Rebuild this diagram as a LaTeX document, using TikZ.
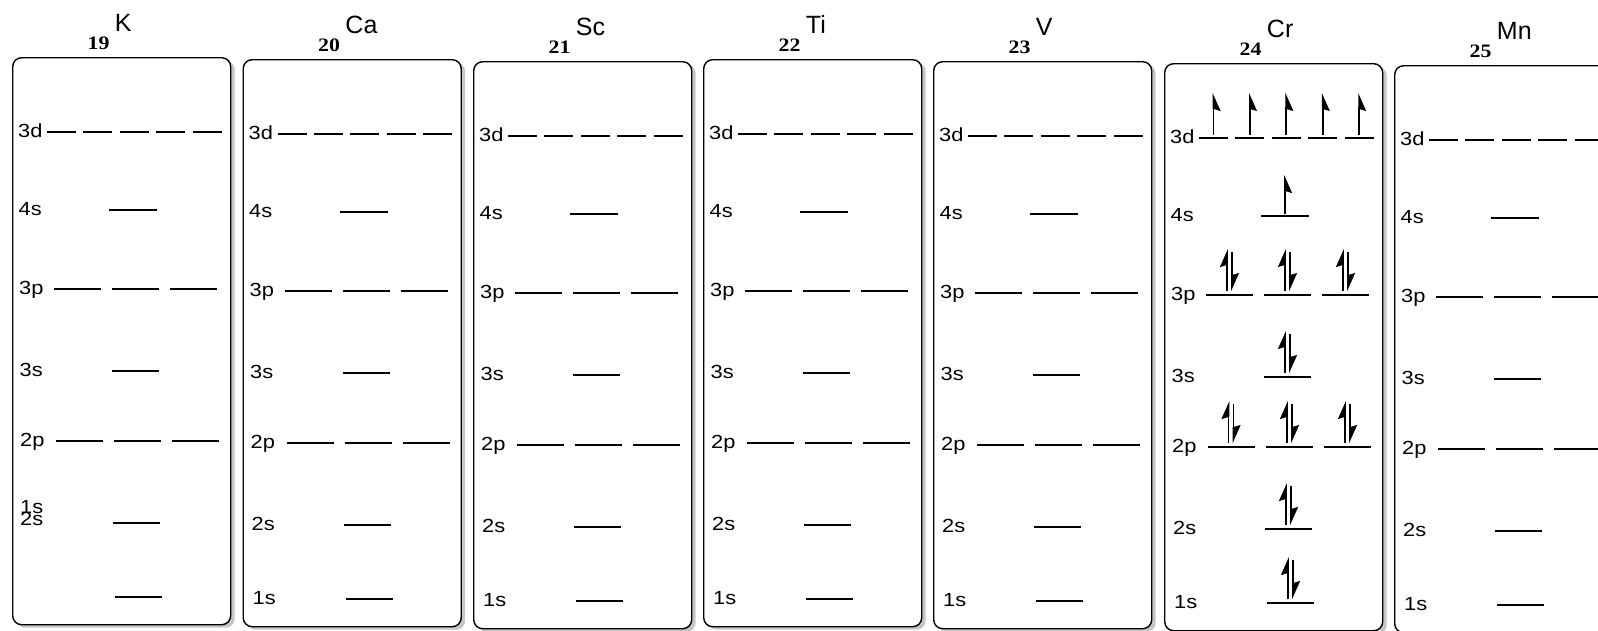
\documentclass[tikz,border=0pt]{standalone}
\usepackage{fontspec}
\setmainfont{Liberation Sans}
\newfontfamily\numfont[FakeStretch=1.15]{Liberation Serif}
\newfontfamily\lblfont[FakeStretch=1.15]{Liberation Sans}
\usetikzlibrary{arrows.meta,shadows}

\tikzset{
    orbbox/.style = {draw, line width=1.4pt, rounded corners=9pt, fill=white,
        drop shadow={shadow xshift=4pt, shadow yshift=-3pt, opacity=0.45},
        minimum width=218pt, minimum height=567pt, inner sep=0pt, anchor=north west},
    lvl/.style = {line width=1.3pt},
    lbl/.style = {font=\lblfont\fontsize{19}{19}\selectfont, inner sep=0pt, anchor=base west},
    znum/.style = {font=\numfont\bfseries\fontsize{19}{19}\selectfont, inner sep=0pt, anchor=base west},
    elem/.style = {font=\fontsize{25}{25}\selectfont, inner sep=0pt, anchor=base west},
    spinone/.style = {line width=1.7pt, -{Stealth[harpoon, swap, length=16pt, width=14pt, inset=2pt]}},
    spinup/.style = {line width=1.7pt, -{Stealth[harpoon, length=16pt, width=14pt, inset=2pt]}},
    spindn/.style = {line width=1.7pt, -{Stealth[harpoon, length=16pt, width=14pt, inset=2pt]}}
}

\begin{document}
\begin{tikzpicture}[x=1pt, y=-1pt]
    \useasboundingbox (0,0) rectangle (1598,630);
    \clip (0,0) rectangle (1598,630);
    \foreach \i/\bx/\by/\zz/\sym in {1/12/57/19/K, 2/242.5/59/20/Ca, 3/473/61/21/Sc,
            4/703/59/22/Ti, 5/933/61/23/V, 6/1164/63/24/Cr, 7/1394/65/25/Mn}{
        \begin{scope}[shift={(\bx,\by)}]
            \node[orbbox] (box\i) at (0,0) {};
            \node[znum] (z\i) at (75.5,-7.5) {\zz};
            \node[elem] (el\i) at ([xshift=5pt, yshift=18pt]z\i.base east) {\sym};
            % level labels
            \foreach \nm/\ly/\lx in {3d/75/6, 4s/153/6.5, 3p/232/7, 3s/314/7.5, 2p/384/8}
                \node[lbl] (\nm-\i) at (\lx,\ly+5) {\nm};
            \ifnum\i=1
                \node[lbl] (2s-\i) at (8,468) {2s};
                \node[lbl] (1s-\i) at (8,456) {1s};
            \else
                \node[lbl] (2s-\i) at (9,471) {2s};
                \node[lbl] (1s-\i) at (10,545) {1s};
            \fi
            % levels
            \foreach \k in {0,...,4}
                \draw[lvl] ({35+36.4*\k},75) -- ({64+36.4*\k},75);
            \draw[lvl] (97,153) -- (145,153);
            \foreach \xa in {42,100,158}
                \draw[lvl] (\xa,232) -- (\xa+47,232);
            \draw[lvl] (100,314) -- (147,314);
            \foreach \xa in {44,102,160}
                \draw[lvl] (\xa,384) -- (\xa+47,384);
            \draw[lvl] (101,466) -- (148,466);
            \draw[lvl] (103,540) -- (150,540);
            % electrons of Cr
            \ifnum\i=6
                \foreach \k in {0,...,4}
                    \draw[spinone] ({49.5+36.4*\k},72) -- ({49.5+36.4*\k},30);
                \draw[spinone] (121,151) -- (121,112);
                \foreach \c/\ly in {65.5/232, 123.5/232, 181.5/232, 123.5/314,
                        67/384, 125.5/384, 183.5/384, 124.5/466, 126.5/540}{
                    \draw[spinup] (\c-2.5,\ly-4) -- (\c-2.5,\ly-46);
                    \draw[spindn] (\c+2.5,\ly-43) -- (\c+2.5,\ly-4);
                }
            \fi
        \end{scope}
    }
\end{tikzpicture}
\end{document}
